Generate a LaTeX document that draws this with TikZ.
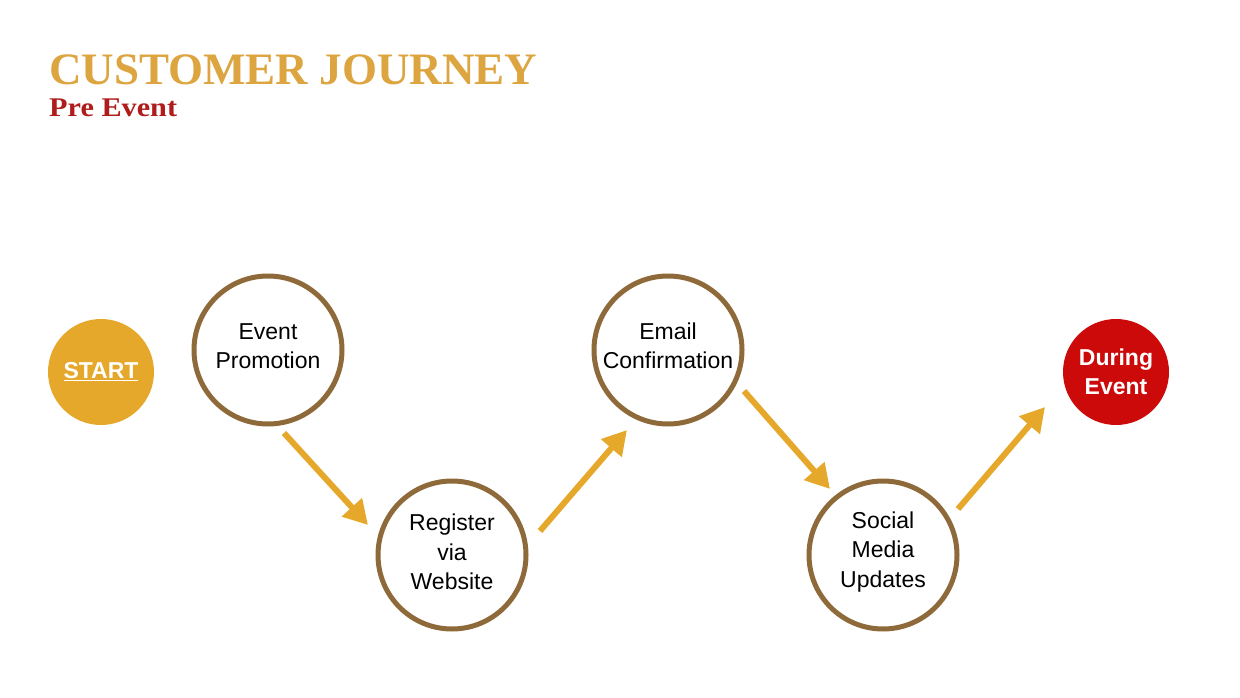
\documentclass[tikz,border=0pt]{standalone}
\usepackage{fontspec}
\setmainfont{Liberation Serif}
\setsansfont{Liberation Sans}
\usetikzlibrary{arrows.meta}
\definecolor{gold}{HTML}{E6A82A}
\definecolor{titlegold}{HTML}{DDA540}
\definecolor{darkred}{HTML}{B01C1C}
\definecolor{ringbrown}{HTML}{8E6A3A}
\definecolor{endred}{HTML}{CC0A0A}
\tikzset{
  ring/.style={circle, draw=ringbrown, line width=5pt, fill=white, minimum size=148pt, inner sep=0pt, align=center, font=\sffamily\fontsize{23}{29}\selectfont},
  ringtext/.style={align=center, font=\sffamily\fontsize{23}{29.5}\selectfont, inner sep=0pt},
  endpoint/.style={circle, minimum size=106pt, inner sep=0pt, align=center, text=white, font=\sffamily\bfseries\fontsize{23}{29}\selectfont},
  flow/.style={draw=gold, line width=6pt, -{Triangle[length=24pt,width=26pt]}}
}
\begin{document}
\begin{tikzpicture}[x=1pt,y=-1pt]
\useasboundingbox (0,0) rectangle (1240,698);
\node[anchor=base west, text=titlegold, font=\bfseries\fontsize{45}{50}\selectfont, inner sep=0pt] (title) at (49,85) {CUSTOMER JOURNEY};
\node[anchor=base west, text=darkred, font=\bfseries\fontsize{27}{30}\selectfont, inner sep=0pt] (sub) at (49,117) {\scalebox{1.12}[1]{Pre Event}};
\node[endpoint, fill=gold] (start) at (101,372) {\underline{START}};
\node[ring] (promo) at (268,350) {};
\node[ring] (reg) at (452,555) {};
\node[ring] (email) at (668,350) {};
\node[ring] (social) at (883,555) {};
\node[ringtext] (promoT) at ([yshift=4pt]promo.center) {Event\\Promotion};
\node[ringtext] (regT) at ([yshift=3pt]reg.center) {Register\\via\\Website};
\node[ringtext] (emailT) at ([yshift=4pt]email.center) {Email\\Confirmation};
\node[ringtext] (socialT) at ([yshift=3pt]social.center) {Social\\Media\\Updates};
\node[endpoint, fill=endred] (during) at (1116,372) {During\\Event};
\coordinate (a1s) at (284,433); \coordinate (a1e) at (368,525);
\coordinate (a2s) at (540,531); \coordinate (a2e) at (627,430);
\coordinate (a3s) at (744,391); \coordinate (a3e) at (830,489);
\coordinate (a4s) at (958,509); \coordinate (a4e) at (1045,407);
\draw[flow] (a1s) -- (a1e);
\draw[flow] (a2s) -- (a2e);
\draw[flow] (a3s) -- (a3e);
\draw[flow] (a4s) -- (a4e);
\end{tikzpicture}
\end{document}
